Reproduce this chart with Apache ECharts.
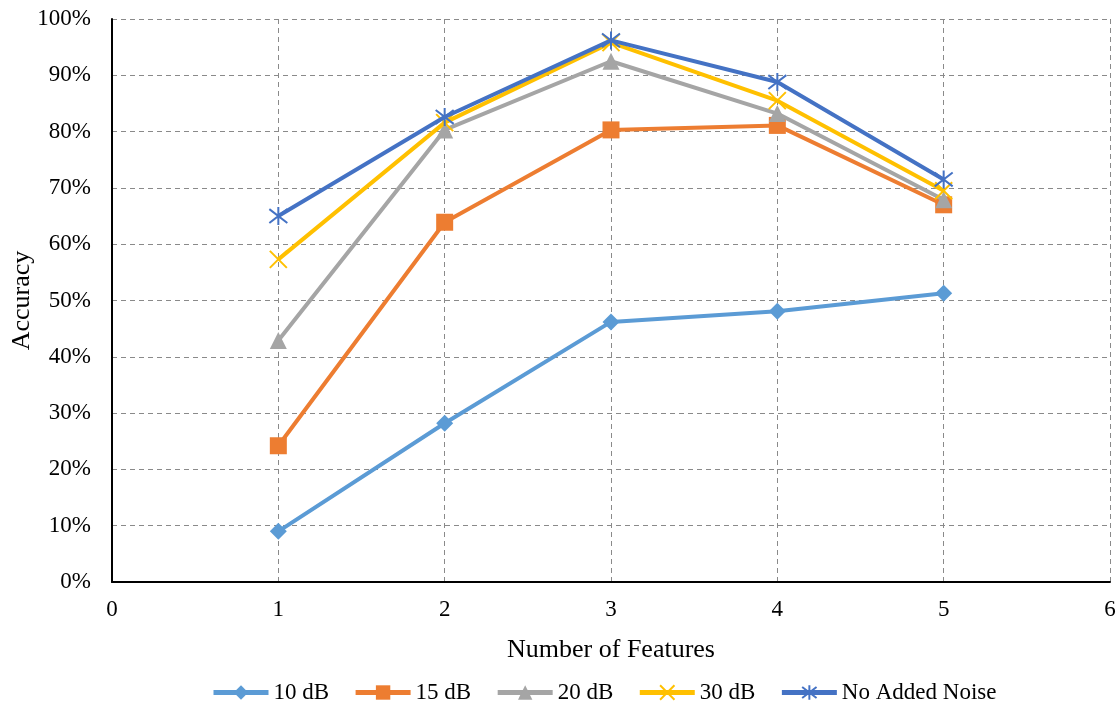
<!DOCTYPE html>
<html><head><meta charset="utf-8">
<script src="https://cdn.jsdelivr.net/npm/echarts@6/dist/echarts.min.js"></script>
<style>html,body{margin:0;padding:0;background:#fff}#c{width:1120px;height:710px}</style>
</head><body><div id="c"></div>
<script>
const features = [1, 2, 3, 4, 5];
const seriesNames = ['10 dB', '15 dB', '20 dB', '30 dB', 'No Added Noise'];
const acc10 = [9.0, 28.2, 46.2, 48.1, 51.3];
const acc15 = [24.2, 63.9, 80.3, 81.1, 67.0];
const acc20 = [42.9, 80.3, 92.5, 83.2, 67.9];
const acc30 = [57.3, 81.6, 95.8, 85.5, 69.5];
const accNone = [65.0, 82.6, 96.2, 88.8, 71.5];
const yTicks = [0, 10, 20, 30, 40, 50, 60, 70, 80, 90, 100];

const colors = ['#5B9BD5', '#ED7D31', '#A5A5A5', '#FFC000', '#4472C4'];
const xSym = 'path://M0,0L10,10M10,0L0,10';
const starSym = 'path://M0,0L10,10M10,0L0,10M5,-1.5L5,11.5';
const symbols = ['diamond', 'rect', 'triangle', xSym, starSym];
const sizes = [17, 17, 17, 17, 18];
const allData = [acc10, acc15, acc20, acc30, accNone];

const font = 'Liberation Serif';
const series = allData.map((d, i) => ({
  name: seriesNames[i],
  type: 'line',
  data: d.map((v, j) => [features[j], v]),
  symbol: symbols[i],
  symbolSize: sizes[i],
  showAllSymbol: true,
  lineStyle: { color: colors[i], width: 4 },
  itemStyle: { color: colors[i], borderColor: colors[i], borderWidth: i >= 3 ? 2 : 0 },
  emphasis: { disabled: true },
  z: 2 + i
}));

const chart = echarts.init(document.getElementById('c'), null, { renderer: 'canvas' });
chart.setOption({
  animation: false,
  color: colors,
  grid: { left: 112, right: 10, top: 19, bottom: 128, outerBoundsMode: 'none', containLabel: false },
  xAxis: {
    type: 'value', min: 0, max: 6, interval: 1,
    name: 'Number of Features', nameLocation: 'middle', nameGap: 55, nameMoveOverlap: false,
    nameTextStyle: { fontFamily: font, fontSize: 26, color: '#000' },
    axisLine: { show: true, lineStyle: { color: '#000', width: 2 } },
    axisTick: { show: false },
    axisLabel: { fontFamily: font, fontSize: 23, color: '#000', margin: 16 },
    splitLine: { show: true, lineStyle: { color: '#8a8a8a', type: [5, 4], width: 1 } }
  },
  yAxis: {
    type: 'value', min: 0, max: 100, interval: 10,
    name: 'Accuracy', nameLocation: 'middle', nameGap: 77, nameMoveOverlap: false,
    nameTextStyle: { fontFamily: font, fontSize: 26, color: '#000' },
    axisLine: { show: true, lineStyle: { color: '#000', width: 2 } },
    axisTick: { show: false },
    axisLabel: { fontFamily: font, fontSize: 23, color: '#000', margin: 21, formatter: v => v + '%' },
    splitLine: { show: true, lineStyle: { color: '#8a8a8a', type: [5, 4], width: 1 } }
  },
  legend: {
    bottom: 1, left: 206, itemWidth: 55, itemHeight: 18, itemGap: 24,
    textStyle: { fontFamily: font, fontSize: 23, color: '#000' },
    lineStyle: { width: 5 },
    data: seriesNames
  },
  series: series
});
</script></body></html>
